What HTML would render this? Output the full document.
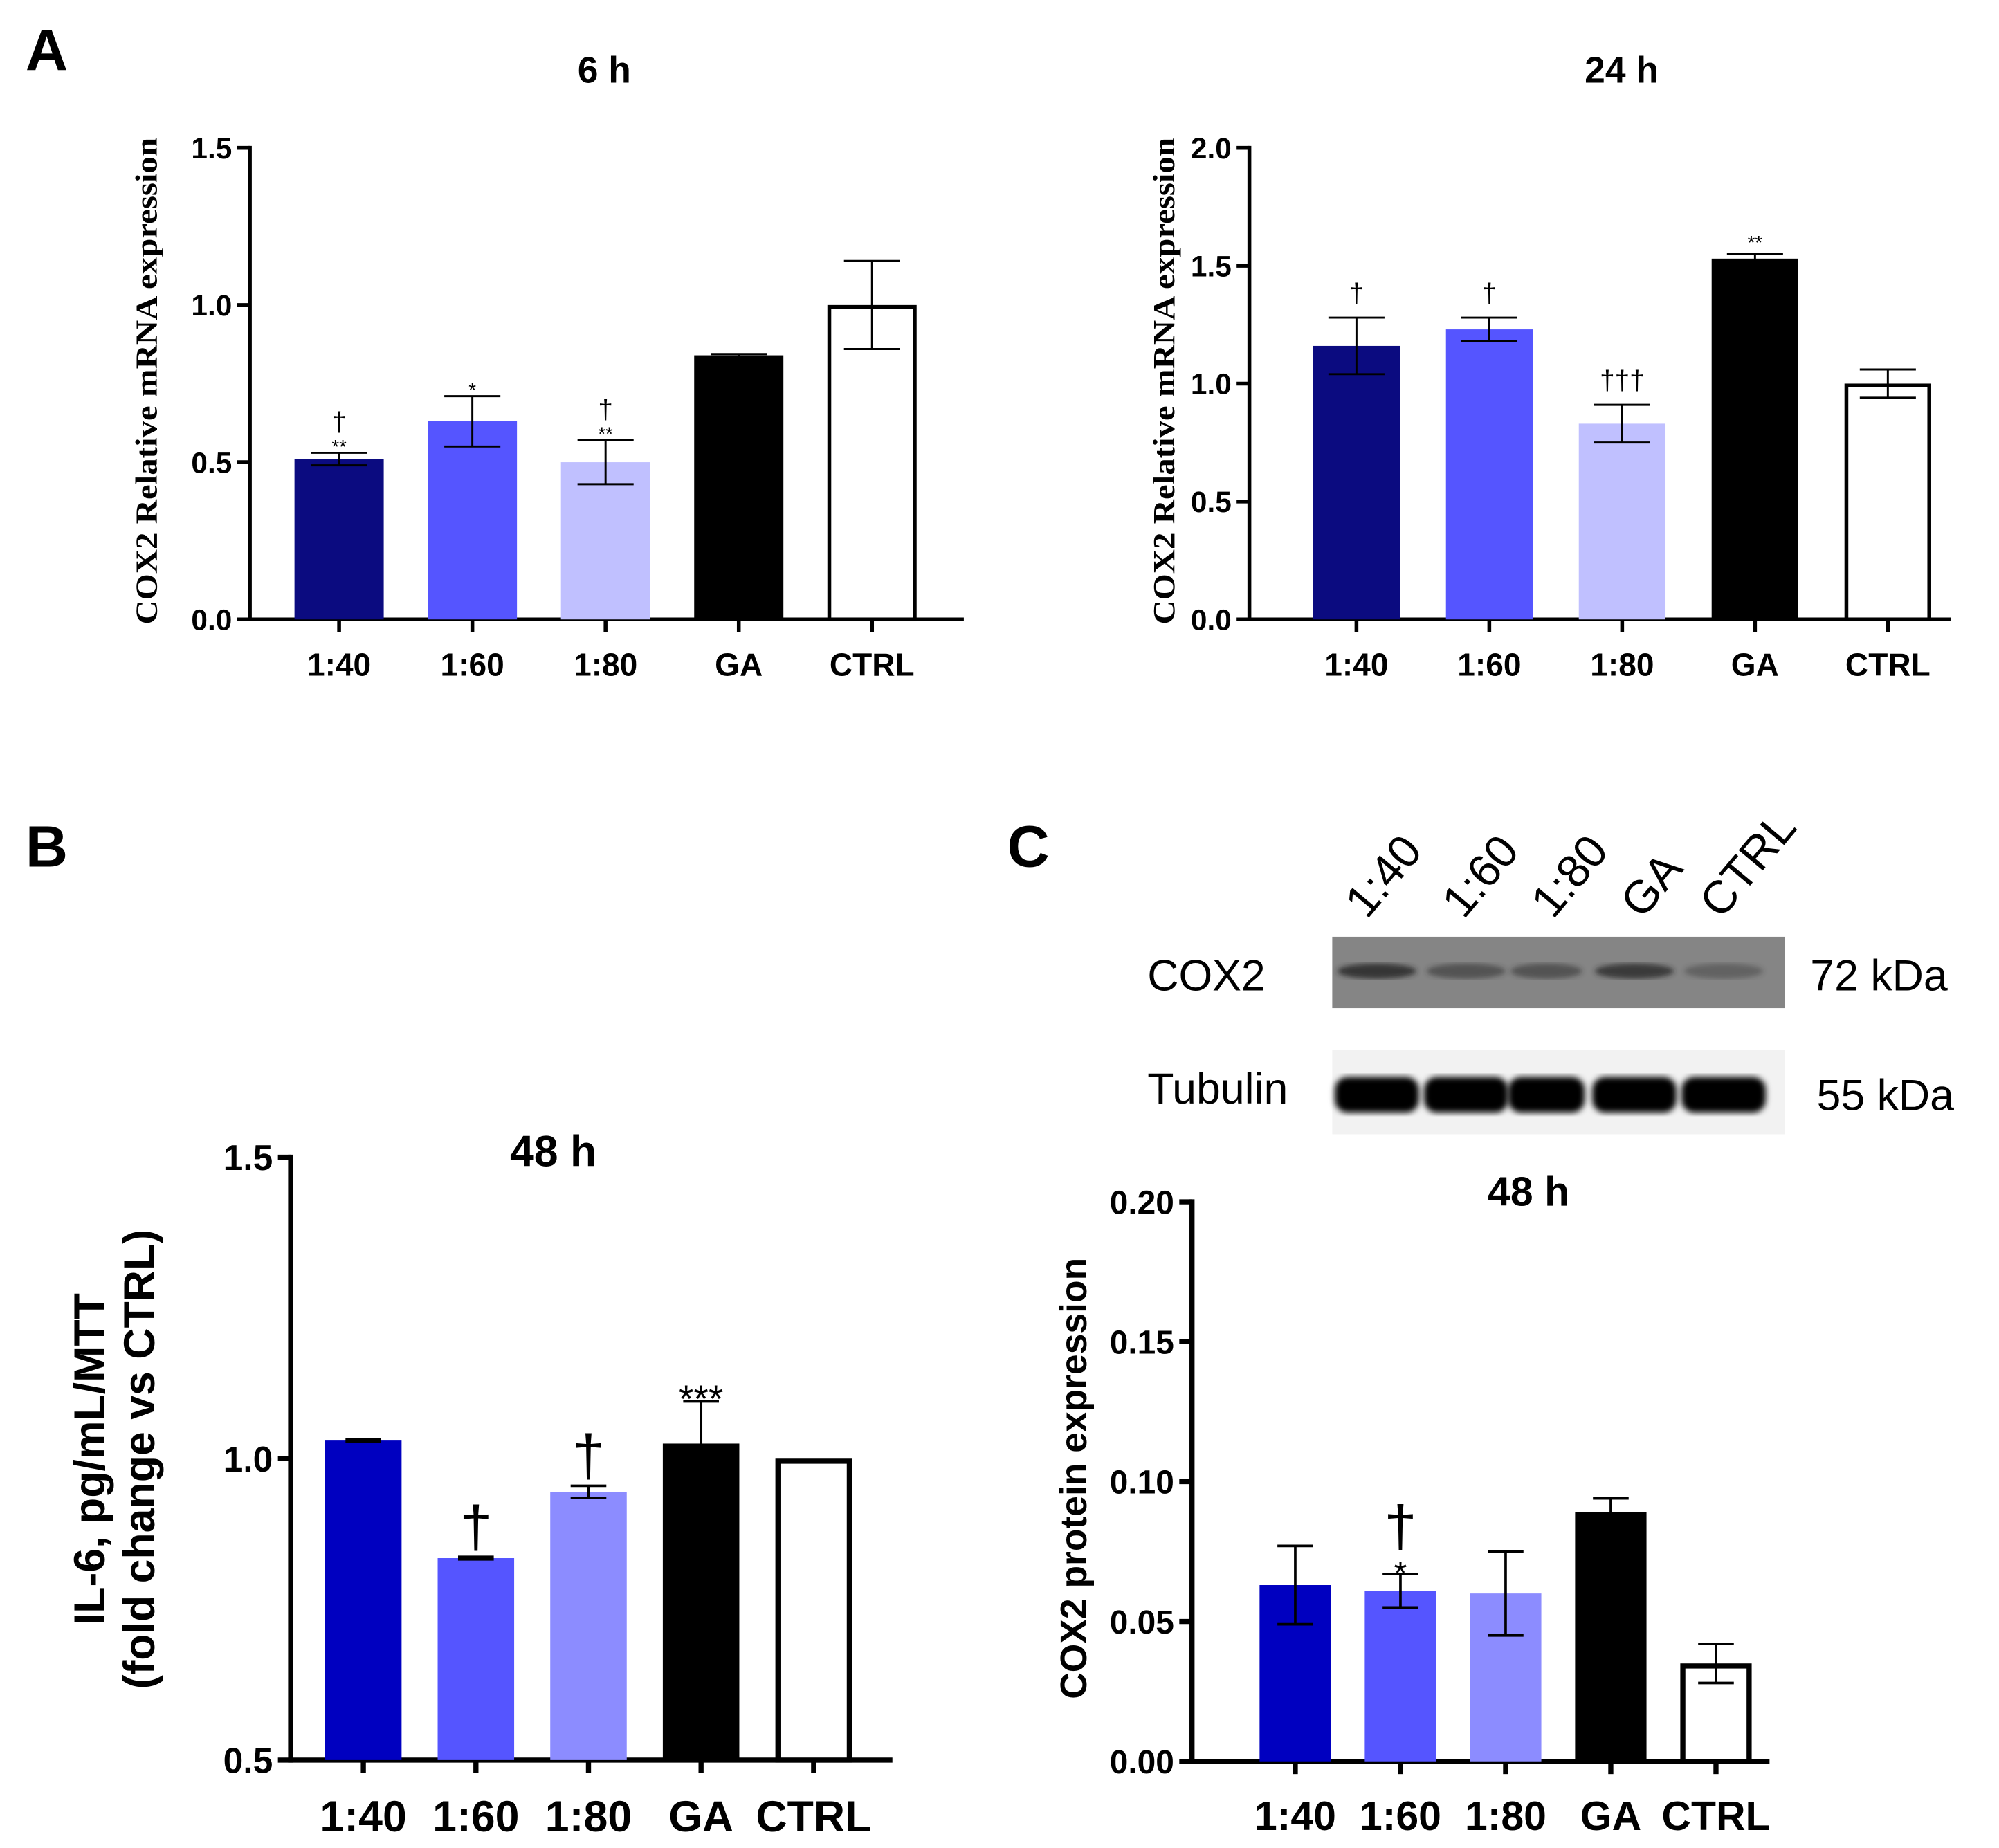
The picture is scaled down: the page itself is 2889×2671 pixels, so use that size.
<!DOCTYPE html>
<html><head><meta charset="utf-8"><style>
html,body{margin:0;padding:0;background:#fff;}
svg{display:block;}
</style></head><body>
<svg id="fig" width="2889" height="2671" viewBox="0 0 1568 1450" preserveAspectRatio="none" xmlns="http://www.w3.org/2000/svg" font-family="Liberation Sans, Arial, sans-serif">
<defs>
<filter id="blur1"><feGaussianBlur stdDeviation="2.5"/></filter>
<filter id="blur2"><feGaussianBlur stdDeviation="2"/></filter>
</defs>
<g id="root"></g>
</svg>
<script>
// Panel A 6h
const catsA = ["1:40","1:60","1:80","GA","CTRL"];
const valsA6 = [0.51,0.63,0.50,0.84,1.00];
const errA6 = [0.02,0.08,0.07,0.004,0.14];
const ticksA6 = [0.0,0.5,1.0,1.5];
const annA6 = [["†","**"],["*"],["†","**"],[],[]];
// Panel A 24h
const valsA24 = [1.16,1.23,0.83,1.53,1.00];
const errA24 = [0.12,0.05,0.08,0.02,0.06];
const ticksA24 = [0.0,0.5,1.0,1.5,2.0];
const annA24 = [["†"],["†"],["†††"],["**"],[]];
// Panel B 48h
const catsB = ["1:40","1:60","1:80","GA","CTRL"];
const valsB = [1.03,0.835,0.945,1.025,1.00];
const errB = [0.002,0.002,0.01,0.07,0.0];
const ticksB = [0.5,1.0,1.5];
const annB = [[],["†"],["†"],["***"],[]];
// Panel C 48h
const valsC = [0.063,0.061,0.060,0.089,0.035];
const errC = [0.014,0.006,0.015,0.005,0.007];
const ticksC = [0.00,0.05,0.10,0.15,0.20];
const annC = [[],["†","*"],[],[],[]];

const NS="http://www.w3.org/2000/svg";
const root=document.getElementById('root');
function mk(tag,attrs,parent){const e=document.createElementNS(NS,tag);for(const k in attrs)e.setAttribute(k,attrs[k]);(parent||root).appendChild(e);return e;}
function txt(s,attrs,parent){const e=mk('text',attrs,parent);e.textContent=s;return e;}

function chart(cfg){
  const g=mk('g',{});
  
  
  const y=v=>cfg.y0+(v-cfg.vmin)/(cfg.vmax-cfg.vmin)*(cfg.y1-cfg.y0);
  const lw=cfg.lw;
  const ya=mk('line',{x1:cfg.ax,y1:cfg.y1-lw/2,x2:cfg.ax,y2:cfg.y0+lw/2,stroke:'#000','stroke-width':lw},g);
  
  const xa=mk('line',{x1:cfg.ax,y1:cfg.y0,x2:cfg.axEnd,y2:cfg.y0,stroke:'#000','stroke-width':lw},g);
  
  cfg.ticks.forEach(t=>{
    const yy=y(t);
    mk('line',{x1:cfg.ax-10,y1:yy,x2:cfg.ax,y2:yy,stroke:'#000','stroke-width':lw},g);
    const tl=txt(t.toFixed(cfg.dec),{x:cfg.ax-14,y:yy+cfg.tfs*0.36,'text-anchor':'end','font-size':cfg.tfs,'font-weight':'bold'},g);
    
  });
  cfg.cats.forEach((c,i)=>{
    const cx=cfg.x0+i*cfg.dx;
    const v=cfg.vals[i],e=cfg.err[i];
    const top=y(v);
    mk('line',{x1:cx,y1:cfg.y0,x2:cx,y2:cfg.y0+10,stroke:'#000','stroke-width':lw},g);
    const hw=cfg.bw/2;
    const white=cfg.colors[i]=='#fff';
    const bar=mk('rect',{x:cx-hw+(white?lw/2:0),y:top+(white?lw/2:0),width:cfg.bw-(white?lw:0),height:cfg.y0-top-(white?lw/2:0),fill:cfg.colors[i],stroke:white?'#000':'none','stroke-width':lw},g);
    
    
    if(e>0){
      mk('line',{x1:cx,y1:y(v+e),x2:cx,y2:y(v-e),stroke:'#000','stroke-width':cfg.elw},g);
      mk('line',{x1:cx-cfg.cap,y1:y(v+e),x2:cx+cfg.cap,y2:y(v+e),stroke:'#000','stroke-width':cfg.elw},g);
      mk('line',{x1:cx-cfg.cap,y1:y(v-e),x2:cx+cfg.cap,y2:y(v-e),stroke:'#000','stroke-width':cfg.elw},g);
    }
    const xl=txt(c,{x:cx,y:cfg.y0+cfg.xly,'text-anchor':'middle','font-size':cfg.xfs,'font-weight':'bold'},g);
    
    const ann=cfg.ann[i];
    let ay=y(v+e)-cfg.annGap;
    for(let k=ann.length-1;k>=0;k--){
      const s=ann[k];const star=s.indexOf('*')>=0;
      const t=txt(s,{x:cx,y:ay+(star?cfg.starFs*0.55:0),'text-anchor':'middle','font-size':star?cfg.starFs:cfg.daggerFs},g);
      
      ay-= star?cfg.starFs*0.6:cfg.daggerFs*0.9;
    }
  });
  const ti=txt(cfg.title,{x:cfg.tx,y:cfg.ty,'text-anchor':'middle','font-size':cfg.tifs,'font-weight':'bold'},g);
  
  cfg.ylab.forEach((l,k)=>{
    const at={x:0,y:0,'text-anchor':'middle','font-size':cfg.ylfs,'font-weight':'bold','transform':`translate(${cfg.ylx+k*cfg.ylfs*1.15},${cfg.yly}) rotate(-90)`,'font-family':cfg.ylff||'Liberation Sans, sans-serif'};
    if(cfg.yllen){at.textLength=cfg.yllen;at.lengthAdjust='spacingAndGlyphs';}
    const yl=txt(l,at,g);
    
  });
}
const colA=['#0b0b80','#5555ff','#c0c0ff','#000','#fff'];
const colB=['#0000c0','#5555ff','#8c8cff','#000','#fff'];
chart({name:'chart-a-6h',ax:196,axEnd:756,y0:486,y1:116,vmin:0,vmax:1.5,ticks:ticksA6,dec:1,cats:catsA,vals:valsA6,err:errA6,ann:annA6,colors:colA,x0:266,dx:104.5,bw:70,lw:3,elw:1.6,cap:22,tfs:23,xfs:25,xly:44,title:'6 h',tx:474,ty:65,tifs:29,ylab:['COX2 Relative mRNA expression'],ylx:123,yly:299,ylfs:24,yllen:382,ylff:'Liberation Serif, serif',annGap:8,starFs:15,daggerFs:21});
chart({name:'chart-a-24h',ax:980,axEnd:1530,y0:486,y1:116,vmin:0,vmax:2.0,ticks:ticksA24,dec:1,cats:catsA,vals:valsA24,err:errA24,ann:annA24,colors:colA,x0:1064,dx:104.2,bw:68,lw:3,elw:1.6,cap:22,tfs:23,xfs:25,xly:44,title:'24 h',tx:1272,ty:65,tifs:29,ylab:['COX2 Relative mRNA expression'],ylx:921,yly:299,ylfs:24,yllen:382,ylff:'Liberation Serif, serif',annGap:12,starFs:15,daggerFs:21});
chart({name:'chart-b-48h',ax:228,axEnd:700,y0:1381,y1:908,vmin:0.5,vmax:1.5,ticks:ticksB,dec:1,cats:catsB,vals:valsB,err:errB,ann:annB,colors:colB,x0:285,dx:88.3,bw:60,lw:4,elw:2,cap:14,tfs:28,xfs:34,xly:56,title:'48 h',tx:434,ty:915,tifs:34,ylab:['IL-6, pg/mL/MTT','(fold change vs CTRL)'],ylx:82,yly:1145,ylfs:34,annGap:8,starFs:30,daggerFs:46});
chart({name:'chart-c-48h',ax:935,axEnd:1388,y0:1382,y1:943,vmin:0,vmax:0.20,ticks:ticksC,dec:2,cats:catsB,vals:valsC,err:errC,ann:annC,colors:colB,x0:1016,dx:82.5,bw:56,lw:4,elw:2,cap:14,tfs:26,xfs:32,xly:54,title:'48 h',tx:1199,ty:946,tifs:32,ylab:['COX2 protein expression'],ylx:852,yly:1160,ylfs:29,annGap:6,starFs:26,daggerFs:46});

[['A',20,55],['B',20,680],['C',790,680]].forEach(([s,x,yy])=>{
  const t=txt(s,{x:x,y:yy,'font-size':46,'font-weight':'bold'});
  
  
});

const blot=mk('g',{});


mk('rect',{x:1045,y:735,width:355,height:56,fill:'#858585'},blot);
mk('rect',{x:1045,y:824,width:355,height:66,fill:'#f2f2f2'},blot);
const lanes=[1080,1150,1213,1282,1352];
const lwid=[62,62,56,62,62];
lanes.forEach((cx,i)=>{
  mk('line',{x1:cx+lwid[i]/2+4,y1:736,x2:cx+lwid[i]/2+4,y2:790,stroke:'#a8a8a8','stroke-width':3,filter:'url(#blur2)'},blot);
  mk('ellipse',{cx:cx,cy:762,rx:lwid[i]/2,ry:6,fill:'#222','opacity':[0.8,0.5,0.5,0.75,0.35][i],filter:'url(#blur2)'},blot);
  mk('rect',{x:cx-lwid[i]/2-2,y:845,width:lwid[i]+4,height:28,rx:10,fill:'#000',filter:'url(#blur1)'},blot);
});
const laneLbl=[['1:40',1072],['1:60',1148],['1:80',1218],['GA',1288],['CTRL',1350]];
laneLbl.forEach(([s,x])=>{
  const t=txt(s,{x:0,y:0,'font-size':36,transform:`translate(${x},722) rotate(-50)`});
  
});
[['COX2',900,777],['Tubulin',900,866],['72 kDa',1420,777],['55 kDa',1425,871]].forEach(([s,x,yy])=>{
  const t=txt(s,{x:x,y:yy,'font-size':34});
  
});
</script>
</body></html>
